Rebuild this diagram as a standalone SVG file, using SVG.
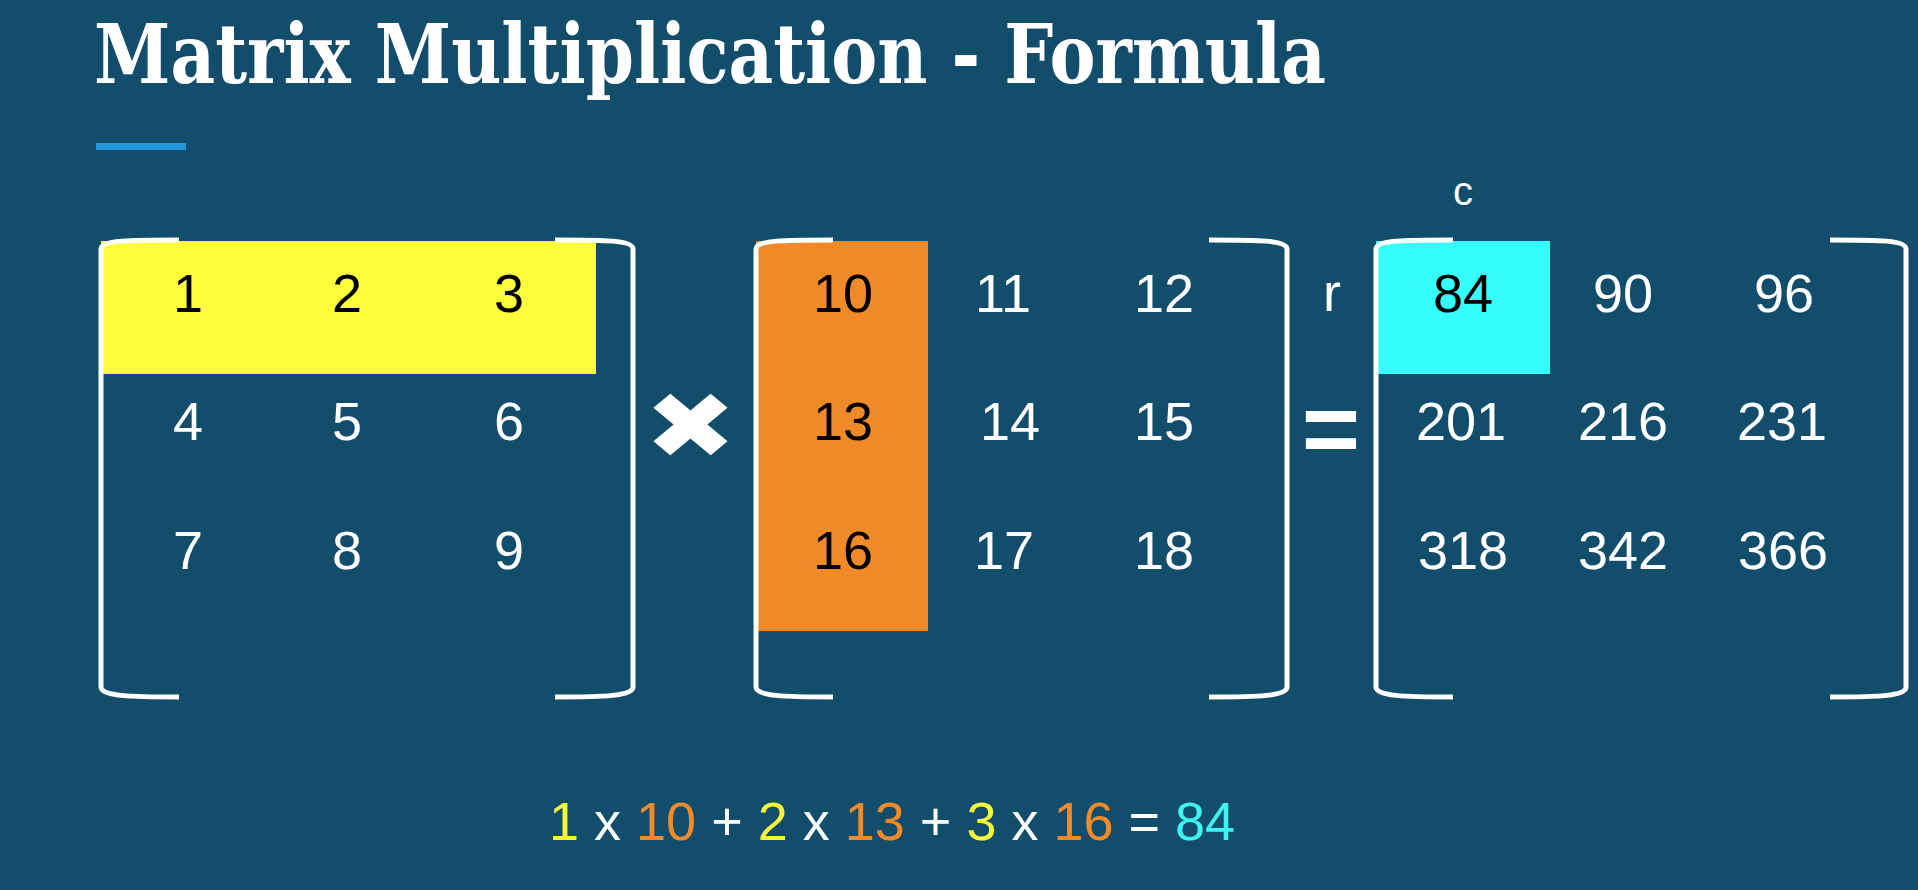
<svg xmlns="http://www.w3.org/2000/svg" width="1918" height="890" viewBox="0 0 1918 890">
<style>
.bg{fill:#124d6c}
.num{font-family:"Liberation Sans",Arial,sans-serif;font-size:54px;text-anchor:middle;fill:#ffffff}
.dark{fill:#000000}
.br{fill:none;stroke:#ffffff;stroke-width:5;stroke-linecap:butt;stroke-linejoin:round}
.title{font-family:"DejaVu Serif","Liberation Serif",serif;font-weight:bold;font-size:82px;fill:#ffffff}
.lbl{font-family:"Liberation Sans",Arial,sans-serif;text-anchor:middle;fill:#ffffff}
.y{fill:#f6f63a}.o{fill:#f08a2a}.w{fill:#ffffff}.c{fill:#3cf5f0}
</style>
<rect class="bg" x="0" y="0" width="1918" height="890"/>
<g id="title">
<text class="title" x="94" y="83" textLength="1232" lengthAdjust="spacingAndGlyphs">Matrix Multiplication - Formula</text>
<rect x="96" y="143" width="90" height="7" fill="#2196d8"/>
</g>
<g id="matrixA">
<rect x="101" y="241" width="495" height="133" fill="#fdfd3a"/>
<path class="br" d="M179,240 C130,240 101,240 101,249 V687 C101,696 130,697 179,697"/>
<path class="br" d="M555,240 C604,240 633,240 633,249 V687 C633,696 604,697 555,697"/>
<text class="num dark" x="188" y="312">1</text>
<text class="num dark" x="347" y="312">2</text>
<text class="num dark" x="509" y="312">3</text>
<text class="num" x="188" y="440">4</text>
<text class="num" x="347" y="440">5</text>
<text class="num" x="509" y="440">6</text>
<text class="num" x="188" y="569">7</text>
<text class="num" x="347" y="569">8</text>
<text class="num" x="509" y="569">9</text>
</g>
<g id="times" transform="translate(690.5,427.5) scale(1,0.83)">
<text x="0" y="37" font-family="DejaVu Sans,sans-serif" font-size="111" fill="#ffffff" text-anchor="middle">✖</text>
</g>
<g id="matrixB">
<rect x="756" y="241" width="172" height="390" fill="#f08a28"/>
<path class="br" d="M833,240 C784,240 756,240 756,249 V687 C756,696 784,697 833,697"/>
<path class="br" d="M1209,240 C1258,240 1287,240 1287,249 V687 C1287,696 1258,697 1209,697"/>
<text class="num dark" x="843" y="312">10</text>
<text class="num" x="1003" y="312">11</text>
<text class="num" x="1164" y="312">12</text>
<text class="num dark" x="843" y="440">13</text>
<text class="num" x="1010" y="440">14</text>
<text class="num" x="1164" y="440">15</text>
<text class="num dark" x="843" y="569">16</text>
<text class="num" x="1004" y="569">17</text>
<text class="num" x="1164" y="569">18</text>
</g>
<g id="equals">
<text x="1331" y="463" font-family="Liberation Sans,Arial,sans-serif" font-weight="bold" font-size="100" fill="#ffffff" text-anchor="middle">=</text>
</g>
<g id="matrixC">
<rect x="1376" y="241" width="174" height="133" fill="#36fdf9"/>
<path class="br" d="M1453,240 C1404,240 1376,240 1376,249 V687 C1376,696 1404,697 1453,697"/>
<path class="br" d="M1830,240 C1879,240 1906,240 1906,249 V687 C1906,696 1879,697 1830,697"/>
<text class="lbl" x="1463" y="205" font-size="40">c</text>
<text class="lbl" x="1332" y="311" font-size="54">r</text>
<text class="num dark" x="1463" y="312">84</text>
<text class="num" x="1623" y="312">90</text>
<text class="num" x="1784" y="312">96</text>
<text class="num" x="1461" y="440">201</text>
<text class="num" x="1623" y="440">216</text>
<text class="num" x="1782" y="440">231</text>
<text class="num" x="1463" y="569">318</text>
<text class="num" x="1623" y="569">342</text>
<text class="num" x="1783" y="569">366</text>
</g>
<g id="equation">
<text x="549" y="840" font-family="Liberation Sans,Arial,sans-serif" font-size="54"><tspan class="y">1</tspan><tspan class="w"> x </tspan><tspan class="o">10</tspan><tspan class="w"> + </tspan><tspan class="y">2</tspan><tspan class="w"> x </tspan><tspan class="o">13</tspan><tspan class="w"> + </tspan><tspan class="y">3</tspan><tspan class="w"> x </tspan><tspan class="o">16</tspan><tspan class="w"> = </tspan><tspan class="c">84</tspan></text>
</g>
</svg>
